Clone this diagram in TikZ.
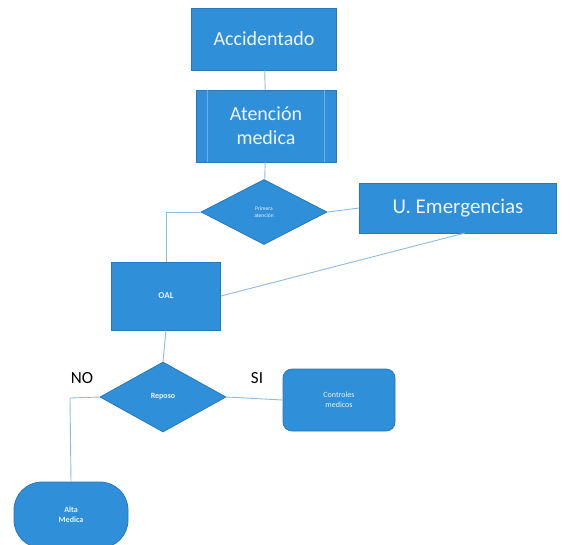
\documentclass[tikz,border=0pt]{standalone}
\usepackage{fontspec}
\setmainfont{Carlito}
\usetikzlibrary{shapes.geometric}
\definecolor{boxblue}{HTML}{2F8FD8}
\definecolor{edgeblue}{HTML}{2878B8}
\definecolor{linkblue}{HTML}{8DBBE3}
\definecolor{textwhite}{HTML}{EEF4FA}
\tikzset{
  base/.style={fill=boxblue, draw=edgeblue, line width=0.8pt, text=textwhite, align=center, inner sep=0pt},
  link/.style={draw=linkblue, line width=0.9pt},
  lab/.style={font=\fontsize{17}{17}\selectfont, text=black}
}
\begin{document}
\begin{tikzpicture}[x=1pt,y=-1pt]
\useasboundingbox (0,0) rectangle (577,544);
\node[base, minimum width=145pt, minimum height=62pt, font=\fontsize{20}{22}\selectfont] (acc) at (264,39) {Accidentado};
\node[base, minimum width=140pt, minimum height=72pt, font=\fontsize{20}{24}\selectfont] (aten) at (266,126) {Atención\\medica};
\draw[linkblue!70!boxblue, line width=0.5pt] ([xshift=12pt]aten.north west) -- ([xshift=12pt]aten.south west);
\draw[linkblue!70!boxblue, line width=0.5pt] ([xshift=-12pt]aten.north east) -- ([xshift=-12pt]aten.south east);
\node[base, diamond, minimum width=126pt, minimum height=65pt, font=\fontsize{5.5}{7}\selectfont] (prim) at (264,212) {Primera\\atención};
\node[base, minimum width=197pt, minimum height=50pt, font=\fontsize{21}{22}\selectfont] (ue) at (458,208) {U. Emergencias};
\node[base, minimum width=109pt, minimum height=68pt, font=\bfseries\fontsize{9}{10}\selectfont] (oal) at (166,296) {OAL};
\node[base, diamond, minimum width=126pt, minimum height=70pt, font=\bfseries\fontsize{8}{9}\selectfont] (rep) at (163,397) {Reposo};
\node[base, rounded corners=9pt, minimum width=112pt, minimum height=62pt, font=\fontsize{8}{10}\selectfont] (ctrl) at (339,400) {Controles\\medicos};
\node[base, rounded corners=28pt, minimum width=114pt, minimum height=66pt, font=\bfseries\fontsize{8}{10}\selectfont] (alta) at (71,515) {Alta\\Medica};
\node[lab] (no) at (82,378) {NO};
\node[lab] (si) at (257,378) {SI};
\coordinate (p1) at (166,212);
\coordinate (p2) at (70,398);
\coordinate (ueb) at (465,233);
\draw[link] (acc) -- (aten);
\draw[link] (aten) -- (prim);
\draw[link] (prim.east) -- (ue.west);
\draw[link] (prim.west) -- (p1) -- (oal.north);
\draw[link] (ueb) -- (oal.east);
\draw[link] (oal.south) -- (rep.north);
\draw[link] (rep.east) -- (ctrl.west);
\draw[link] (rep.west) -- (p2) -- (alta.north);
\end{tikzpicture}
\end{document}
